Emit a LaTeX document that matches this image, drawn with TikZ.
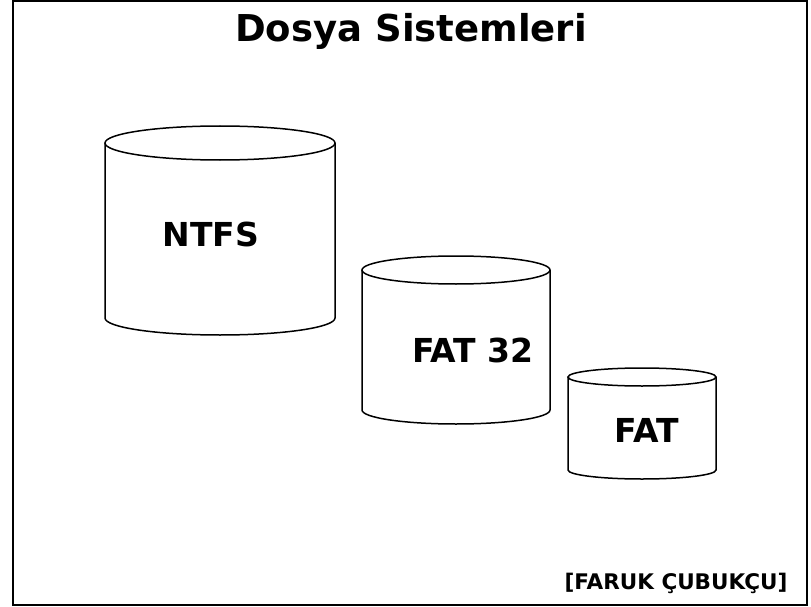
\documentclass[tikz,border=0pt]{standalone}
\usepackage{fontspec}
\setmainfont{DejaVu Sans}
\usepackage{tikz}
\tikzstyle{diskline} = [line width=1.5pt, draw=black]
\tikzstyle{frameline} = [line width=2pt, draw=black]
\tikzstyle{title} = [font=\fontsize{37}{44}\selectfont\bfseries, inner sep=0pt]
\tikzstyle{disklabel} = [font=\fontsize{33}{39}\selectfont\bfseries, inner sep=0pt]
\tikzstyle{signature} = [font=\fontsize{21.5}{26}\selectfont\bfseries, inner sep=0pt]
% centre x, top y, bottom y, x radius, y radius
\newcommand{\disk}[5]{%
	\draw [diskline] (#1,#2) ellipse [x radius=#4pt, y radius=#5pt];
	\draw [diskline] (#1-#4,#2) -- (#1-#4,#3) arc [start angle=180, end angle=360, x radius=#4pt, y radius=#5pt] -- (#1+#4,#2);
}

\begin{document}
\begin{tikzpicture}[x=1pt, y=-1pt]
		\useasboundingbox (0,0) rectangle (811,607);
		\draw [frameline] (13,1) rectangle (806.5,605);
		\node (title) [title] at (411,31) {Dosya Sistemleri};
		\disk{220}{143}{318}{115}{17}
		\disk{456}{270}{410}{94}{14}
		\disk{642}{377}{470}{74}{9}
		\node (ntfs) [disklabel] at (211,234) {NTFS};
		\node (fat32) [disklabel] at (473,350) {FAT 32};
		\node (fat) [disklabel] at (647,430) {FAT};
		\node (author) [signature] at (676,583) {[FARUK ÇUBUKÇU]};
	\end{tikzpicture}
\end{document}
